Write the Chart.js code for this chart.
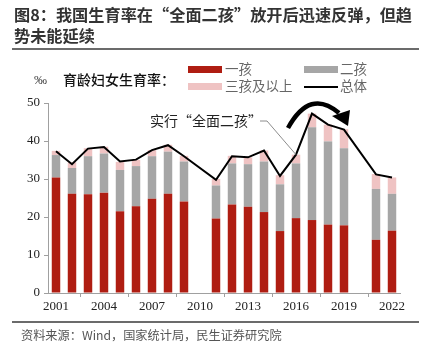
<!DOCTYPE html>
<html>
<head>
<meta charset="utf-8">
<script src="https://cdn.jsdelivr.net/npm/chart.js@4"></script>
<style>
  body { margin: 0; background: #fff; }
  #wrap { position: relative; width: 426px; height: 361px; font-family: "Noto Sans CJK SC", sans-serif; }
  #c { position: absolute; left: 0; top: 0; }
  .t { position: absolute; white-space: nowrap; line-height: 1; }
  .rule { position: absolute; left: 12px; width: 407px; height: 2px; background: #6b6b6b; }
  .box { position: absolute; width: 34px; height: 7px; }
</style>
</head>
<body>
<div id="wrap">
  <canvas id="c" width="426" height="361"></canvas>
  <div class="t" style="left:14px;top:6px;font-size:16.2px;font-weight:bold;color:#333;">图8：我国生育率在“全面二孩”放开后迅速反弹，但趋</div>
  <div class="t" style="left:14px;top:27px;font-size:16.2px;font-weight:bold;color:#333;">势未能延续</div>
  <div class="rule" style="top:48px;"></div>

  <div class="t" style="left:34px;top:73px;font-size:13px;font-family:'Liberation Serif',serif;color:#444;">‰</div>
  <div class="t" style="left:63px;top:72px;font-size:14px;font-weight:500;color:#111;">育龄妇女生育率：</div>

  <div class="box" style="left:188px;top:66px;background:#AF1D12;"></div>
  <div class="t" style="left:225px;top:62px;font-size:13.5px;color:#666;">一孩</div>
  <div class="box" style="left:304px;top:66px;background:#A6A6A6;"></div>
  <div class="t" style="left:340px;top:62px;font-size:13.5px;color:#666;">二孩</div>
  <div class="box" style="left:188px;top:83px;background:#EFC3C3;"></div>
  <div class="t" style="left:225px;top:79px;font-size:13.5px;color:#666;">三孩及以上</div>
  <div class="box" style="left:304px;top:86px;height:2px;background:#000;"></div>
  <div class="t" style="left:340px;top:79px;font-size:13.5px;color:#666;">总体</div>

  <div class="t" style="left:150px;top:113px;font-size:14px;color:#222;">实行“全面二孩”</div>

  <div class="rule" style="top:321px;"></div>
  <div class="t" style="left:21px;top:329px;font-size:12.2px;color:#555;">资料来源：Wind，国家统计局，民生证券研究院</div>
</div>
<script>
var years = ["2001","2002","2003","2004","2005","2006","2007","2008","2009","2010","2011",
             "2012","2013","2014","2015","2016","2017","2018","2019","2020","2021","2022"];
// 一孩
var firstChild = [30.4,26.1,26.0,26.4,21.5,22.8,24.8,26.1,24.1,null,19.6,
                  23.3,22.7,21.3,16.3,19.7,19.2,18.0,17.8,null,14.0,16.4];
// 二孩
var secondChild = [5.9,6.8,10.0,10.3,10.9,10.6,11.2,11.1,10.5,null,8.7,
                   10.8,11.2,13.3,12.3,14.4,24.4,21.9,20.3,null,13.4,9.7];
// 三孩及以上
var thirdPlus = [1.1,1.5,2.1,1.8,2.1,1.6,1.6,1.8,1.5,null,1.7,
                 2.0,1.8,2.9,2.4,2.3,3.6,4.4,5.0,null,3.9,4.3];
// 总体
var total = [37.3,33.9,38.0,38.4,34.6,35.1,37.6,38.9,36.0,null,29.8,
             36.0,35.7,37.5,30.8,36.4,47.2,44.3,43.0,null,31.2,30.4];
var yTicks = [0,10,20,30,40,50];

// leader line for the "全面二孩" note and the curved arrow over 2017-2019
var notes = {
  id: 'notes',
  afterDatasetsDraw: function(chart) {
    var ctx = chart.ctx, x = chart.scales.x, y = chart.scales.y;
    var px = x.getPixelForValue(15), py = y.getPixelForValue(total[15]);
    ctx.save();
    ctx.strokeStyle = '#8c8c8c';
    ctx.lineWidth = 1;
    ctx.beginPath();
    ctx.moveTo(260, 121);
    ctx.lineTo(267, 121);
    ctx.lineTo(px, py);
    ctx.stroke();

    // curved arrow
    var sx = x.getPixelForValue(15) - 8, ex = x.getPixelForValue(18) + 3;
    ctx.strokeStyle = '#000';
    ctx.fillStyle = '#000';
    ctx.lineWidth = 4.5;
    ctx.lineCap = 'butt';
    ctx.beginPath();
    ctx.moveTo(sx, 128);
    ctx.quadraticCurveTo(sx + 22, 88, ex - 8, 113);
    ctx.stroke();
    ctx.beginPath();
    ctx.moveTo(ex - 15, 116);
    ctx.lineTo(ex + 3, 110);
    ctx.lineTo(ex + 1, 126);
    ctx.closePath();
    ctx.fill();
    ctx.restore();
  }
};

var axisFont = { family: 'Liberation Serif', size: 13 };

new Chart(document.getElementById('c'), {
  type: 'bar',
  data: {
    labels: years,
    datasets: [
      { label: '总体', type: 'line', data: total, stack: 'line', order: 0,
        borderColor: '#000', borderWidth: 2, pointRadius: 0, tension: 0, spanGaps: true, fill: false },
      { label: '一孩', data: firstChild, stack: 'bar', order: 1, backgroundColor: '#AF1D12',
        barPercentage: 0.53, categoryPercentage: 1 },
      { label: '二孩', data: secondChild, stack: 'bar', order: 1, backgroundColor: '#A6A6A6',
        barPercentage: 0.53, categoryPercentage: 1 },
      { label: '三孩及以上', data: thirdPlus, stack: 'bar', order: 1, backgroundColor: '#EFC3C3',
        barPercentage: 0.53, categoryPercentage: 1 }
    ]
  },
  options: {
    responsive: false,
    animation: false,
    layout: { padding: { left: 0, right: 26, top: 103, bottom: 48 } },
    plugins: { legend: { display: false }, tooltip: { enabled: false } },
    scales: {
      x: {
        stacked: true,
        afterFit: function(s) { s.height = 20; },
        grid: { display: true, drawOnChartArea: false, offset: true, tickLength: 4, color: '#a0a0a0' },
        border: { color: '#a0a0a0' },
        ticks: {
          autoSkip: false, maxRotation: 0, padding: 2, color: '#222', font: axisFont,
          callback: function(v, i) { return i % 3 === 0 ? years[i] : null; }
        }
      },
      y: {
        stacked: true,
        min: 0, max: 50,
        afterFit: function(s) { s.width = 48; },
        afterBuildTicks: function(s) { s.ticks = yTicks.map(function(v) { return { value: v }; }); },
        grid: { display: true, drawOnChartArea: false, tickLength: 4, color: '#a0a0a0' },
        border: { color: '#a0a0a0' },
        ticks: { padding: 4, color: '#222', font: axisFont }
      }
    }
  },
  plugins: [notes]
});
</script>
</body>
</html>
